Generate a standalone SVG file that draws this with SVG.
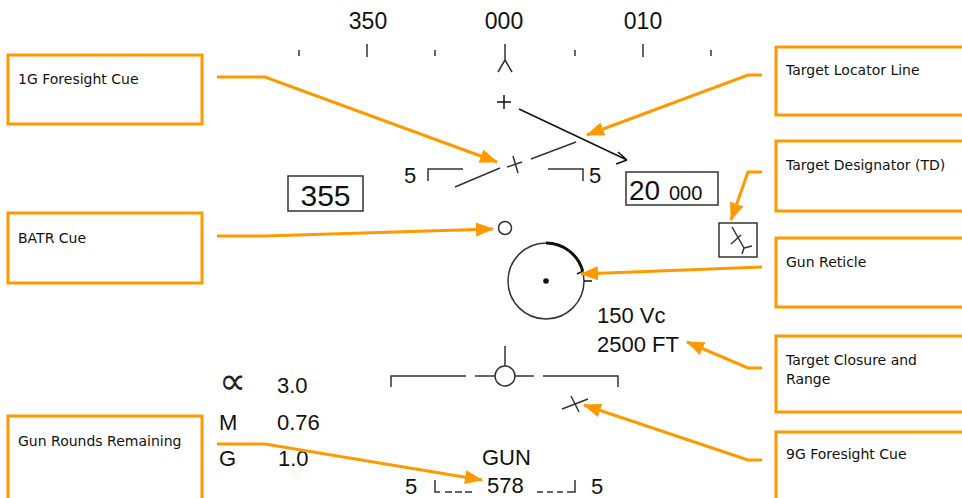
<svg xmlns="http://www.w3.org/2000/svg" width="962" height="498" viewBox="0 0 962 498">
<defs>
<marker id="ah" markerWidth="18" markerHeight="14" refX="17" refY="7" orient="auto" markerUnits="userSpaceOnUse">
<path d="M0,0 L18,7 L0,14 Z" fill="#FF9900"/>
</marker>
</defs>
<style>
.hud{stroke:#333;stroke-width:1.5;fill:none}
.hk{stroke:#111;stroke-width:1.5;fill:none}
.ht{font-family:"Liberation Sans",Arial,sans-serif;fill:#111}
.box{fill:#fff;stroke:#FF9900;stroke-width:3}
.lbl{font-family:"DejaVu Sans",Verdana,sans-serif;font-size:14px;fill:#111}
.con{fill:none;stroke:#FF9900;stroke-width:3;marker-end:url(#ah)}
</style>
<rect width="962" height="498" fill="#fff"/>

<g id="heading-scale">
<text class="ht" x="368" y="29" font-size="23" text-anchor="middle">350</text>
<text class="ht" x="504" y="29" font-size="23" text-anchor="middle">000</text>
<text class="ht" x="643" y="29" font-size="23" text-anchor="middle">010</text>
<path class="hud" d="M299,50V56 M367,44V57 M435,50V56 M575,50V56 M643,44V57 M711,50V56"/>
<path class="hud" d="M505,44V60 M505,60L498,72 M505,60L512,72"/>
</g>

<g id="target-locator">
<path class="hk" d="M497,102H511 M504,95V109"/>
<path class="hk" d="M519,109L627,160 M627,160L618,152 M627,160L616,164"/>
</g>

<g id="pitch-ladder">
<path class="hud" d="M428,181V169H463 M548,169H583V181"/>
<text class="ht" x="404" y="183" font-size="22">5</text>
<text class="ht" x="589" y="183" font-size="22">5</text>
</g>

<g id="foresight-1g">
<path class="hud" d="M455,187L500,168 M531,159L576,142 M507,167L522,162 M513,156L518,173"/>
</g>

<g id="heading-box">
<rect x="288" y="176" width="75" height="35" fill="#fff" stroke="#333" stroke-width="1.5"/>
<text class="ht" x="325.5" y="206" font-size="30" text-anchor="middle">355</text>
</g>

<g id="altitude-box">
<rect x="626" y="172" width="92" height="33" fill="#fff" stroke="#333" stroke-width="1.5"/>
<text class="ht" x="629" y="200" font-size="28">20</text>
<text class="ht" x="669" y="200" font-size="20">000</text>
</g>

<g id="batr-cue">
<circle cx="505" cy="228" r="6.5" class="hud"/>
</g>

<g id="gun-reticle">
<circle cx="546" cy="281" r="38" class="hud"/>
<circle cx="546" cy="281" r="2.8" fill="#111"/>
<path d="M546,243 A38,38 0 0 1 582.7,271.2" fill="none" stroke="#111" stroke-width="3"/>
<path class="hk" d="M582.7,271.2L577,274 M584,281H592"/>
</g>

<g id="target-designator">
<rect x="719" y="223" width="38" height="34" fill="#fff" stroke="#333" stroke-width="1.5"/>
<path class="hud" d="M732,227L744,248 M731,244L741,235 M744,248L752,246 M744,248L742,254"/>
</g>

<g id="closure-range">
<text class="ht" x="597" y="323" font-size="22">150 Vc</text>
<text class="ht" x="597" y="352" font-size="22">2500 FT</text>
</g>

<g id="waterline">
<path class="hud" d="M391,387V376H466 M475,376H495 M515,376H534 M543,376H618V387 M505,366V346"/>
<circle cx="505" cy="376" r="10" class="hud" fill="#fff"/>
</g>

<g id="foresight-9g">
<path class="hud" d="M562,409L588,399 M571,396L579,412"/>
</g>

<g id="flight-data">
<text x="219" y="394" font-size="38" font-weight="200" font-family="DejaVu Sans, sans-serif" fill="#222">∝</text>
<text class="ht" x="277" y="393" font-size="22">3.0</text>
<text class="ht" x="219" y="430" font-size="22">M</text>
<text class="ht" x="277" y="430" font-size="22">0.76</text>
<text class="ht" x="219" y="466" font-size="22">G</text>
<text class="ht" x="278" y="466" font-size="22">1.0</text>
</g>

<g id="gun-rounds">
<text class="ht" x="482" y="465" font-size="22">GUN</text>
<text class="ht" x="487" y="493" font-size="22">578</text>
<text class="ht" x="405" y="494" font-size="22">5</text>
<text class="ht" x="591" y="494" font-size="22">5</text>
<path class="hud" d="M435,480V492H440 M445,492H452 M455,492H462 M465,492H472 M537,492H543 M547,492H553 M557,492H563 M567,492H575V480"/>
</g>

<g id="callout-1g">
<rect class="box" x="8" y="55" width="194" height="69"/>
<text class="lbl" x="18" y="84">1G Foresight Cue</text>
</g>
<g id="callout-batr">
<rect class="box" x="8" y="213" width="194" height="70"/>
<text class="lbl" x="18" y="243">BATR Cue</text>
</g>
<g id="callout-rounds">
<rect class="box" x="8" y="416" width="194" height="95"/>
<text class="lbl" x="18" y="446">Gun Rounds Remaining</text>
</g>
<g id="callout-tll">
<rect class="box" x="776" y="47" width="200" height="68"/>
<text class="lbl" x="786" y="75">Target Locator Line</text>
</g>
<g id="callout-td">
<rect class="box" x="776" y="141" width="200" height="70"/>
<text class="lbl" x="786" y="170">Target Designator (TD)</text>
</g>
<g id="callout-reticle">
<rect class="box" x="776" y="238" width="200" height="69"/>
<text class="lbl" x="786" y="267">Gun Reticle</text>
</g>
<g id="callout-closure">
<rect class="box" x="776" y="336" width="200" height="76"/>
<text class="lbl" x="786" y="365">Target Closure and</text>
<text class="lbl" x="786" y="384">Range</text>
</g>
<g id="callout-9g">
<rect class="box" x="776" y="432" width="200" height="80"/>
<text class="lbl" x="786" y="459">9G Foresight Cue</text>
</g>

<g id="connectors">
<path class="con" d="M217,77H265L497,162"/>
<path class="con" d="M217,236H265L493,229"/>
<path class="con" d="M217,444H265L482,480"/>
<path class="con" d="M762,75H748L587,135"/>
<path class="con" d="M762,172H748L731,220"/>
<path class="con" d="M762,267L581,274"/>
<path class="con" d="M762,368H748L687,342"/>
<path class="con" d="M762,460H748L584,405"/>
</g>
</svg>
